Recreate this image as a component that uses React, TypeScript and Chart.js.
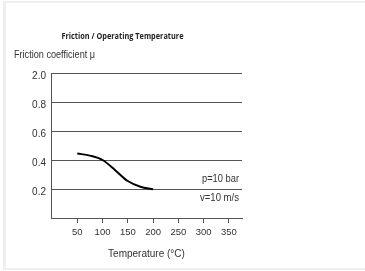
import React, { useEffect, useRef } from "react";
import { Chart, registerables } from "chart.js";

Chart.register(...registerables);

const chartTitle = "Friction / Operating Temperature";
const yAxisTitle = "Friction coefficient μ";
const xAxisTitle = "Temperature (°C)";
const notes = ["p=10 bar", "v=10 m/s"];

const temperatures = [50, 75, 100, 125, 150, 175, 200];
const friction = [0.445, 0.43, 0.4, 0.33, 0.255, 0.215, 0.198];

const xTickValues = [50, 100, 150, 200, 250, 300, 350];
const yTickValues = [0.2, 0.4, 0.6, 0.8, 1.0];
const yTickLabels = ["0.2", "0.4", "0.6", "0.8", "2.0"];

const SANS = "'Liberation Sans', Arial, sans-serif";

const textPlugin = {
  id: "texts",
  afterDraw(chart: any) {
    const ctx = chart.ctx;
    const area = chart.chartArea;
    ctx.save();
    ctx.fillStyle = "#222";
    ctx.textBaseline = "middle";
    ctx.font = "bold 9.5px 'Open Sans', 'Liberation Sans', sans-serif";
    ctx.textAlign = "center";
    ctx.fillText(chartTitle, 122.5, 36, 122);
    ctx.font = "11px " + SANS;
    ctx.textAlign = "left";
    ctx.fillStyle = "#333";
    ctx.fillText(yAxisTitle, 14, 55, 81);
    ctx.font = "10px " + SANS;
    ctx.textAlign = "right";
    ctx.fillText(notes[0], area.right - 3, area.bottom - 39, 37);
    ctx.fillText(notes[1], area.right - 3, area.bottom - 20, 39);
    ctx.restore();
  },
};

export default function App() {
  const ref = useRef<HTMLCanvasElement>(null);
  useEffect(() => {
    if (!ref.current) return;
    const chart = new Chart(ref.current, {
      type: "line",
      data: {
        datasets: [
          {
            data: temperatures.map((t, i) => ({ x: t, y: friction[i] })),
            borderColor: "#000",
            borderWidth: 2,
            pointRadius: 0,
            cubicInterpolationMode: "monotone",
            fill: false,
          },
        ],
      },
      options: {
        animation: false,
        responsive: false,
        maintainAspectRatio: false,
        layout: { padding: { top: 73, right: 123, left: 6, bottom: 0 } },
        plugins: { legend: { display: false }, tooltip: { enabled: false }, title: { display: false } },
        scales: {
          x: {
            type: "linear",
            min: -2,
            max: 376,
            afterBuildTicks: (s: any) => {
              s.ticks = xTickValues.map((v) => ({ value: v }));
            },
            afterFit: (s: any) => {
              s.height = 53;
            },
            border: { display: true, color: "#555", width: 1 },
            grid: { drawOnChartArea: false, drawTicks: true, tickLength: 5, color: "#555" },
            ticks: {
              font: { size: 9.5, family: SANS },
              color: "#333",
              padding: 4,
              maxRotation: 0,
              autoSkip: false,
            },
            title: {
              display: true,
              text: xAxisTitle,
              font: { size: 10, family: SANS },
              color: "#333",
              padding: { top: 0, bottom: 11 },
            },
          },
          y: {
            type: "linear",
            min: 0,
            max: 1,
            afterBuildTicks: (s: any) => {
              s.ticks = yTickValues.map((v) => ({ value: v }));
            },
            afterFit: (s: any) => {
              s.width = 45;
            },
            border: { display: true, color: "#555", width: 1 },
            grid: { drawTicks: false, color: "#555", lineWidth: 1 },
            ticks: {
              font: { size: 10, family: SANS },
              color: "#333",
              padding: 5,
              labelOffset: 3,
              callback: (v: any) => {
                const i = yTickValues.findIndex((t) => Math.abs(t - v) < 1e-6);
                return i >= 0 ? yTickLabels[i] : "";
              },
            },
          },
        },
      },
      plugins: [textPlugin],
    } as any);
    return () => chart.destroy();
  }, []);

  return (
    <div style={{ position: "fixed", left: 0, top: 0, width: 365, height: 271, background: "#fff" }}>
      <div
        style={{
          position: "absolute",
          left: 3,
          top: 1,
          width: 362,
          height: 269,
          boxSizing: "border-box",
          borderTop: "2px solid #efefef",
          borderLeft: "3px solid #efefef",
          borderBottom: "2px solid #efefef",
        }}
      />
      <canvas ref={ref} width={365} height={271} style={{ position: "absolute", left: 0, top: 0 }} />
    </div>
  );
}
